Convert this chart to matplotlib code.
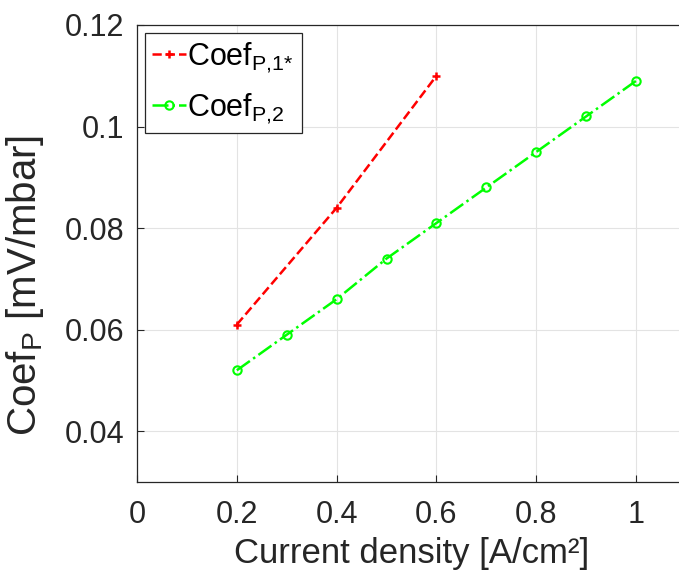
import matplotlib.pyplot as plt

plt.rcParams['font.family'] = ['Liberation Sans', 'DejaVu Sans']
plt.rcParams['mathtext.default'] = 'regular'

# data
x1 = [0.2, 0.4, 0.6]
coef_p1 = [0.061, 0.084, 0.110]
x2 = [0.2, 0.3, 0.4, 0.5, 0.6, 0.7, 0.8, 0.9, 1.0]
coef_p2 = [0.052, 0.059, 0.066, 0.074, 0.081, 0.088, 0.095, 0.102, 0.109]
xticks = [0, 0.2, 0.4, 0.6, 0.8, 1]
yticks = [0.04, 0.06, 0.08, 0.1, 0.12]
ytick_labels = ['0.04', '0.06', '0.08', '0.1', '0.12']

fig = plt.figure(figsize=(6.79, 5.73), dpi=100)
ax = fig.add_axes([0.2018, 0.1588, 0.8085, 0.7976])

ax.plot(x1, coef_p1, color='#ff0000', linestyle='--', marker='+',
        markersize=6, markeredgewidth=1.8, linewidth=1.8,
        label=r'Coef$_{P{,}1{*}}$')
ax.plot(x2, coef_p2, color='#00ff00', linestyle='-.', marker='o',
        markersize=6, markerfacecolor='none', markeredgewidth=1.5,
        linewidth=1.8, label=r'Coef$_{P{,}2}$')

ax.set_xlim(0, 1.1)
ax.set_ylim(0.03, 0.12)
ax.set_xticks(xticks)
ax.set_xticklabels(['0', '0.2', '0.4', '0.6', '0.8', '1'])
ax.set_yticks(yticks)
ax.set_yticklabels(ytick_labels)
ax.tick_params(direction='in', labelsize=22, colors='#262626', length=5, pad=9)
ax.tick_params(axis='x', pad=13)
ax.grid(True, color='#e3e3e3', linewidth=0.8)
ax.set_axisbelow(True)
for s in ax.spines.values():
    s.set_color('#262626')
    s.set_linewidth(0.9)

ax.set_xlabel('Current density [A/cm²]', fontsize=25, color='#262626', labelpad=5)
ax.set_ylabel(r'Coef$_{P}$ [mV/mbar]', fontsize=29, color='#262626')
ax.yaxis.set_label_coords(-0.165, 0.43)

leg = ax.legend(loc='upper left', fontsize=22, handlelength=1.1, handletextpad=0.05,
                borderpad=0.25, labelspacing=0.55, borderaxespad=0.25, fancybox=False,
                framealpha=1)
leg.get_frame().set_edgecolor('#262626')
leg.get_frame().set_linewidth(0.9)

fig.savefig('out.png', dpi=100)
